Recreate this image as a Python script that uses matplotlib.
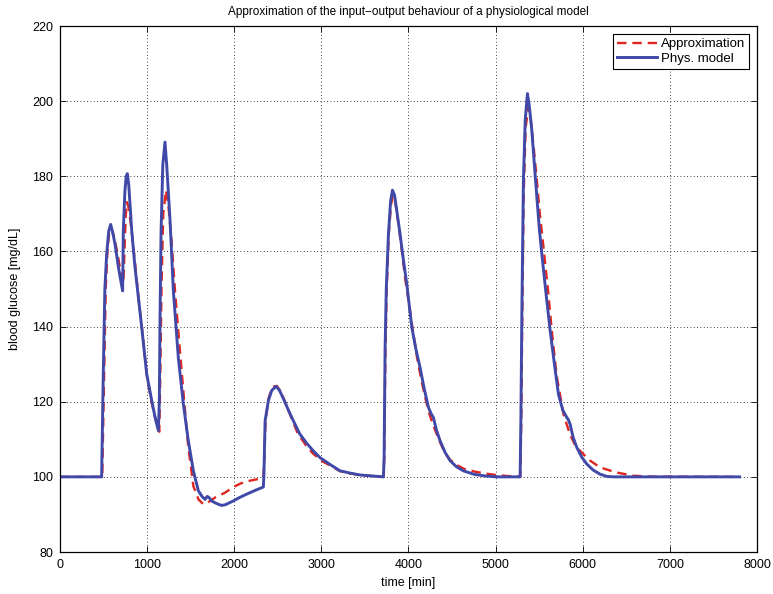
import matplotlib
matplotlib.use('Agg')
import matplotlib.pyplot as plt
import numpy as np

APPROX_COLOR = '#E0261E'
MODEL_COLOR = '#4048A8'

# physiological model (blue)
time_model = [0, 478, 495, 515, 536, 560, 582, 610, 631, 677, 719, 727, 745, 760, 773, 790,
              823, 860, 899, 938, 995, 1053, 1090, 1129, 1140, 1148, 1160, 1180, 1205,
              1225, 1245, 1263, 1301, 1358, 1416, 1473, 1531, 1588, 1630, 1665, 1690, 1711,
              1740, 1780, 1818, 1856, 1900, 1990, 2060, 2143, 2250, 2334, 2340, 2354, 2392,
              2430, 2480, 2520, 2580, 2630, 2679, 2750, 2830, 2908, 2985, 3100, 3215, 3330,
              3444, 3600, 3712, 3720, 3731, 3745, 3770, 3795, 3816, 3840, 3870, 3903, 3940,
              3980, 4038, 4085, 4133, 4180, 4229, 4260, 4286, 4320, 4363, 4420, 4478, 4550,
              4630, 4750, 4860, 5000, 5281, 5290, 5301, 5319, 5340, 5365, 5385, 5415, 5445,
              5473, 5500, 5530, 5580, 5626, 5675, 5721, 5770, 5817, 5835, 5855, 5890, 5932,
              5990, 6047, 6120, 6200, 6280, 6353, 7000, 7800]
glucose_model = [100, 100, 125, 150, 159.4, 165.5, 167.2, 164.5, 162, 154.9, 149.5, 165.6, 176,
                 180, 180.7, 177.5, 165.6, 156, 148, 139.8, 127.4, 120.3, 116, 112.3, 120,
                 141.6, 165, 183, 189.1, 183, 175, 168.3, 149.6, 131.8, 119.4, 109.6, 101.6,
                 96.3, 94.8, 94.0, 94.8, 94.5, 93.6, 93.1, 92.7, 92.4, 92.6, 93.6, 94.5, 95.4,
                 96.5, 97.3, 100, 114.9, 120.3, 123, 124.1, 123, 120, 117.3, 114.9, 111.5, 109,
                 106.9, 105.1, 103.3, 101.6, 101, 100.5, 100.2, 100, 105, 133.6, 150, 164.7,
                 173.5, 176.3, 175, 170, 164.7, 158, 151.4, 139.8, 134, 129.1, 123.5, 118.5,
                 116.8, 115.8, 112.5, 109.6, 106.5, 104.3, 102.7, 101.6, 100.7, 100.3, 100, 100,
                 115, 143.4, 178.9, 195, 202, 199, 192.3, 183, 174.5, 166.5, 159.4, 148.5,
                 138.9, 130, 122.0, 117.8, 115.8, 115.2, 114, 110.5, 107.8, 105.2, 103.4, 101.8,
                 100.7, 100.1, 100, 100, 100]

# approximation (red dashed)
time_approx = [0, 485, 505, 525, 545, 565, 590, 620, 660, 700, 728, 740, 755, 768, 790, 830,
               865, 905, 950, 1000, 1050, 1100, 1140, 1150, 1165, 1185, 1217, 1245, 1280,
               1320, 1375, 1430, 1470, 1531, 1590, 1646, 1700, 1780, 1895, 1990, 2070, 2143,
               2250, 2334, 2345, 2360, 2395, 2440, 2490, 2540, 2600, 2660, 2730, 2820, 2900,
               3000, 3100, 3215, 3330, 3444, 3600, 3712, 3722, 3735, 3750, 3775, 3800, 3822,
               3850, 3880, 3920, 3960, 4000, 4050, 4100, 4150, 4200, 4250, 4300, 4360, 4420,
               4480, 4560, 4640, 4760, 4880, 5000, 5150, 5283, 5295, 5305, 5322, 5345, 5377,
               5400, 5440, 5473, 5510, 5549, 5600, 5645, 5700, 5779, 5850, 5910, 5970, 6080,
               6200, 6380, 6582, 6800, 7800]
glucose_approx = [100, 100, 125, 150, 160, 165, 166.3, 164, 159.5, 154, 151.5, 160, 169.5, 173.1,
                  171.5, 164, 156, 147, 137.5, 126.5, 120, 115, 112, 125, 150, 170, 176.3, 172,
                  163, 149.6, 134, 119, 108.5, 97.5, 94, 92.7, 93.2, 94.5, 95.8, 97.3, 98.2,
                  98.8, 99.3, 99.8, 105, 115, 121, 124, 124.2, 122.5, 119, 115.5, 111.5, 108.5,
                  106.3, 104.3, 103, 101.5, 100.9, 100.5, 100.2, 100, 105, 133, 150, 165, 172.5,
                  175, 173, 168, 161, 153, 147, 139, 131.5, 125.5, 120.3, 116, 112.8, 109.3,
                  106.3, 104.5, 103.1, 102.1, 101.4, 100.9, 100.5, 100.2, 100.1, 115, 140, 175,
                  193, 198.5, 196, 187, 178.9, 169.5, 161.2, 150, 138.9, 127, 116.7, 111.5,
                  108.5, 106.9, 104.4, 102.5, 101.2, 100.3, 100.05, 100]

x_ticks = np.arange(0, 8001, 1000)
y_ticks = np.arange(80, 221, 20)

plt.rcParams['font.family'] = ['Liberation Sans', 'DejaVu Sans']

fig = plt.figure(figsize=(7.73, 5.94), dpi=100)
ax = fig.add_axes([0.0776, 0.0707, 0.9017, 0.8855])

ax.plot(time_approx, glucose_approx, color=APPROX_COLOR, linestyle=(0, (4, 2.5)),
        linewidth=1.7, label='Approximation')
ax.plot(time_model, glucose_model, color=MODEL_COLOR, linewidth=2.1, label='Phys. model')

ax.set_xlim(0, 8000)
ax.set_ylim(80, 220)
ax.set_xticks(x_ticks)
ax.set_yticks(y_ticks)
ax.tick_params(direction='in', top=True, right=True, labelsize=9, length=4, width=0.6, pad=5)
ax.grid(True, color='black', linestyle=(0, (1, 3)), linewidth=0.6)
for sp in ax.spines.values():
    sp.set_linewidth(0.9)

ax.set_title('Approximation of the input\u2212output behaviour of a physiological model',
             fontsize=8.5, pad=8)
ax.set_xlabel('time [min]', fontsize=9, labelpad=4)
ax.set_ylabel('blood glucose [mg/dL]', fontsize=9, labelpad=8)

leg = ax.legend(loc='upper right', fontsize=9.5, fancybox=False, framealpha=1,
                edgecolor='black', borderaxespad=0.6, handlelength=3.0,
                borderpad=0.3, labelspacing=0.2, handletextpad=0.3)
leg.get_frame().set_linewidth(0.8)

fig.savefig('out.png', dpi=100)
